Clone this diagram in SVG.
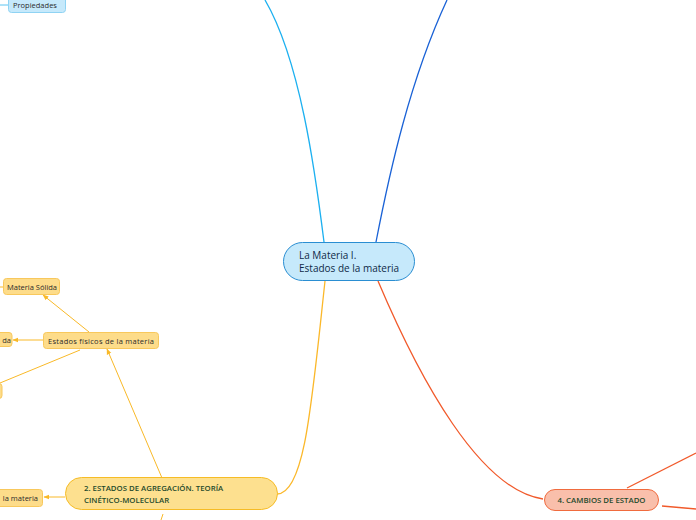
<svg xmlns="http://www.w3.org/2000/svg" width="696" height="520" viewBox="0 0 696 520">
<defs>
<style>
text{font-family:"Open Sans","Noto Sans","Liberation Sans",sans-serif}
.c{fill:none;stroke-width:1.3}
.y{stroke:#f9b928;fill:none;stroke-width:1}
.yn{fill:#fddc8a;stroke:#f8c85c;stroke-width:1}
.sm{font-size:7.5px;fill:#2b2b2b}
.hd{font-size:7.8px;font-weight:600;fill:#1d4a2c}
</style>
<marker id="ay" viewBox="0 0 10 10" refX="9" refY="5" markerWidth="6" markerHeight="6" orient="auto"><path d="M0,1 L10,5 L0,9 Z" fill="#f9b928"/></marker>
</defs>
<g id="connectors">
<path class="c" stroke="#1cb0f0" d="M324,242 C315,170 300,60 265,0"/>
<path class="c" stroke="#1a62d6" d="M376,242 C390,170 410,80 447,0"/>
<path class="c" stroke="#fbb82a" d="M325,281 C312,400 305,494 277,494"/>
<path class="c" stroke="#f15a2b" d="M378,281 C420,380 480,490 543,499"/>
<path class="c" stroke="#f15a2b" d="M627,488 L696,453"/>
<path class="c" stroke="#f15a2b" d="M662,506 L696,509"/>
<path stroke="#5cc4f0" stroke-width="1" d="M0,5 L8,5"/>
<path class="y" d="M162,478 L107,349" marker-end="url(#ay)"/>
<path class="y" d="M163,514 L161,520"/>
<path class="y" d="M65,497 L44,497" marker-end="url(#ay)"/>
<path class="y" d="M89,332 L43,295" marker-end="url(#ay)"/>
<path class="y" d="M43,340 L13,340" marker-end="url(#ay)"/>
<path class="y" d="M80,350 L0,383"/>
<path class="y" d="M0,287 L3,287"/>
</g>
<g id="center">
<rect x="283.5" y="242.5" width="131" height="38" rx="19" fill="#c6e9fb" stroke="#2a8ed2" stroke-width="1"/>
<text x="299" y="259" font-size="10" fill="#0f2a48" font-weight="500">La Materia I.</text>
<text x="299" y="272" font-size="10" fill="#0f2a48" font-weight="500">Estados de la materia</text>
</g>
<g id="propiedades">
<rect x="8.5" y="-4" width="57" height="16.5" rx="3" fill="#c6e9fb" stroke="#8fd3f3" stroke-width="1"/>
<text class="sm" x="13" y="8">Propiedades</text>
</g>
<g id="materia-solida">
<rect class="yn" x="3.5" y="278.5" width="56" height="16" rx="3"/>
<text class="sm" x="7" y="290" font-size="7">Materia Sólida</text>
</g>
<g id="estados-fisicos">
<rect class="yn" x="43.5" y="332.5" width="115" height="16" rx="3"/>
<text class="sm" x="48" y="344" font-size="8" textLength="106" lengthAdjust="spacing">Estados físicos de la materia</text>
</g>
<g id="liquida">
<rect class="yn" x="-40" y="332.5" width="52" height="14" rx="3"/>
<text class="sm" x="11" y="343" text-anchor="end">da</text>
</g>
<g id="gaseosa">
<rect class="yn" x="-40" y="383.5" width="42" height="15" rx="3"/>
</g>
<g id="prop-materia">
<rect class="yn" x="-60" y="489.5" width="102.5" height="17" rx="3"/>
<text class="sm" x="38" y="501" text-anchor="end">la materia</text>
</g>
<g id="estados-agregacion">
<rect x="65.5" y="477.5" width="212" height="32" rx="16" fill="#fde08f" stroke="#f6bc26" stroke-width="1"/>
<text class="hd" x="84" y="491">2. ESTADOS DE AGREGACIÓN. TEORÍA</text>
<text class="hd" x="84" y="503">CINÉTICO-MOLECULAR</text>
</g>
<g id="cambios-estado">
<rect x="544.5" y="489.5" width="114" height="21" rx="10.5" fill="#f9bfab" stroke="#f06b3e" stroke-width="1"/>
<text class="hd" x="601.5" y="502.5" text-anchor="middle">4. CAMBIOS DE ESTADO</text>
</g>
</svg>
